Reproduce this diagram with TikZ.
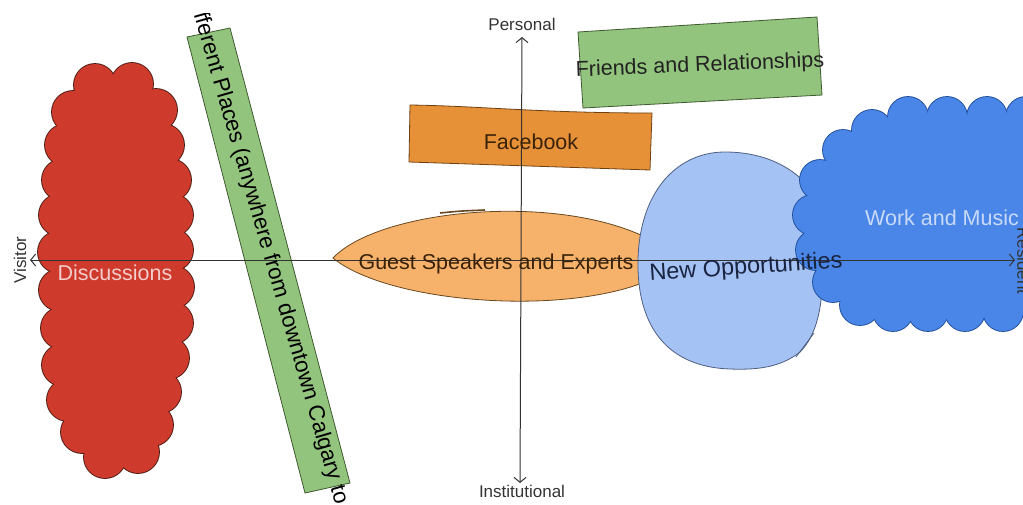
\documentclass[tikz,border=0pt]{standalone}
\usepackage{fontspec}
\setmainfont{Liberation Sans}
\usetikzlibrary{arrows.meta}
\definecolor{redc}{HTML}{CE3A2B}
\definecolor{redb}{HTML}{4A1A12}
\definecolor{greenc}{HTML}{93C47D}
\definecolor{greenb}{HTML}{3E5A30}
\definecolor{orangec}{HTML}{E69138}
\definecolor{orangeb}{HTML}{6E4010}
\definecolor{lorange}{HTML}{F6B26B}
\definecolor{lorangeb}{HTML}{6A4820}
\definecolor{lblue}{HTML}{A4C2F4}
\definecolor{lblueb}{HTML}{4E5F80}
\definecolor{bluec}{HTML}{4A86E8}
\definecolor{blueb}{HTML}{1F4E9A}
\definecolor{axisc}{HTML}{333333}
\definecolor{disctext}{HTML}{F4CCCC}
\definecolor{worktext}{HTML}{C9DAF8}
\definecolor{darktext}{HTML}{222222}
\definecolor{browntext}{HTML}{3A2208}
\definecolor{navytext}{HTML}{1A2440}
\newcommand{\redpts}{95/85,132/84,156/110,163/145,170/180,172/215,172/250,173/287,172/323,168/358,160/392,152/425,138/452,105/457,82/432,68/400,63/365,62/328,60/290,59/252,60/215,63/180,66/145,73/112}
\newcommand{\bluepts}{908/117,947/117,987/117,1026/117,1060/117,1060/305,1040/305,1003/311,965/311,928/311,893/311,860/305,833/282,816/250,813/215,820/180,843/150,872/130}
\begin{document}
\begin{tikzpicture}[x=1pt,y=-1pt,
  big/.style={font=\fontsize{21.5}{24}\selectfont, inner sep=0pt},
  small/.style={font=\fontsize{17}{20}\selectfont, text=axisc, inner sep=0pt},
  border/.style={line width=0.8pt},
  axis/.style={draw=axisc, line width=1pt, {Straight Barb[length=5pt,width=12pt]}-{Straight Barb[length=5pt,width=12pt]}}]
\useasboundingbox (0,0) rectangle (1023,504);
\clip (0,0) rectangle (1023,504);
\fill[white] (0,0) rectangle (1023,504);

% red cloud (Discussions)
\foreach \x/\y in \redpts {\draw[redb, line width=1.8pt] (\x,\y) circle[radius=21pt];}
\fill[redc] (95,85) \foreach \x/\y in \redpts {-- (\x,\y)} -- cycle;
\foreach \x/\y in \redpts {\fill[redc] (\x,\y) circle[radius=21pt];}

% green band
\filldraw[fill=greenc, draw=greenb, border] (187,37) -- (230,28) -- (350,483) -- (305,493) -- cycle;

% Facebook box
\filldraw[fill=orangec, draw=orangeb, border] (410,105) .. controls (480,106) and (540,113) .. (652,113) -- (650,170) -- (409,162) -- cycle;

% Friends box
\filldraw[fill=greenc, draw=greenb, border] (578,32) -- (817,17) -- (822,95) -- (583,108) -- cycle;

% Guest speakers leaf
\filldraw[fill=lorange, draw=lorangeb, border] (333,258) .. controls (380,208) and (570,190) .. (660,245) -- (660,275) .. controls (580,318) and (390,305) .. (333,258) -- cycle;
\draw[lorangeb, line width=1.6pt] (440,213) .. controls (460,211) .. (485,210);

% New opportunities oval
\filldraw[fill=lblue, draw=lblueb, border] (638,270) .. controls (636,195) and (675,152) .. (725,152) .. controls (770,152) and (800,172) .. (815,195) -- (822,290) .. controls (820,320) and (812,340) .. (800,352) .. controls (780,368) and (755,370) .. (730,369) .. controls (670,367) and (640,330) .. (638,270) -- cycle;
\draw[lblueb, border] (796,357) -- (814,333);

% blue cloud (Work and Music)
\foreach \x/\y in \bluepts {\draw[blueb, line width=1.8pt] (\x,\y) circle[radius=20pt];}
\fill[bluec] (908,117) \foreach \x/\y in \bluepts {-- (\x,\y)} -- cycle;
\foreach \x/\y in \bluepts {\fill[bluec] (\x,\y) circle[radius=20pt];}

% axes
\coordinate (vis) at (30,260);
\coordinate (res) at (1015,260);
\coordinate (per) at (522,37);
\coordinate (ins) at (520,483);
\draw[axis] (vis) -- (res);
\draw[axis] (ins) -- (per);

% texts
\node[small] (lper) at (522,24) {Personal};
\node[small] (lins) at (522,491) {Institutional};
\node[small, rotate=90] (lvis) at (20,260) {Visitor};
\node[small, rotate=-90, anchor=south] (lres) at (1017,261) {Resident};
\node[big, text=disctext] (tdisc) at (115,273) {Discussions};
\begin{scope}
\clip (0,13) rectangle (1023,504);
\node[big, font=\fontsize{22.3}{25}\selectfont, text=black, rotate=-73.9] (tplaces) at (267.2,248) {Different Places (anywhere from downtown Calgary to};
\end{scope}
\node[big, text=browntext] (tface) at (531,142) {Facebook};
\node[big, text=darktext, rotate=2.3] (tfriends) at (700,66) {Friends and Relationships};
\node[big, text=browntext] (tguest) at (496,264) {Guest Speakers and Experts};
\node[big, font=\fontsize{23.5}{26}\selectfont, text=navytext, rotate=4] (tnew) at (746,268) {New Opportunities};
\node[big, text=worktext] (twork) at (942,218) {Work and Music};
\end{tikzpicture}
\end{document}
